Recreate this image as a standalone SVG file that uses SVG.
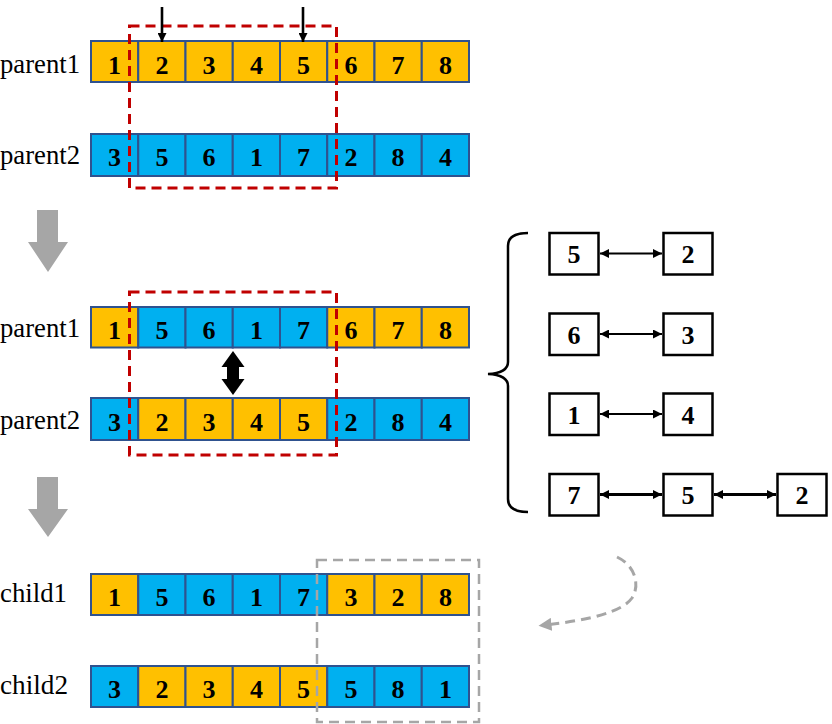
<svg xmlns="http://www.w3.org/2000/svg" width="832" height="724" viewBox="0 0 832 724">
<style>
.o{fill:#FFC000;stroke:#2F528F;stroke-width:2}
.b{fill:#00B0F0;stroke:#2F528F;stroke-width:2}
.d{font-family:"Liberation Serif","Times New Roman",serif;font-weight:bold;font-size:26px;fill:#000;text-anchor:middle}
.lb{font-family:"Liberation Serif","Times New Roman",serif;font-size:27px;fill:#000}
.red{fill:none;stroke:#C00000;stroke-width:3;stroke-dasharray:10 6}
.gd{fill:none;stroke:#A6A6A6;stroke-width:2.5;stroke-dasharray:10 6}
.bx{fill:#fff;stroke:#000;stroke-width:2.5}
.ln{stroke:#000;stroke-width:2.2;fill:none}
</style>
<defs>
<marker id="ah" viewBox="0 0 10 10" refX="10" refY="5" markerUnits="userSpaceOnUse" markerWidth="10" markerHeight="9" orient="auto-start-reverse">
<path d="M0,0 L10,5 L0,10 z" fill="#000"/>
</marker>
<marker id="gh" viewBox="0 0 10 10" refX="5" refY="5" markerUnits="userSpaceOnUse" markerWidth="13" markerHeight="13" orient="auto">
<path d="M0,0 L10,5 L0,10 z" fill="#A6A6A6"/>
</marker>
</defs>
<rect width="832" height="724" fill="#fff"/>

<!-- labels -->
<g id="labels">
<text class="lb" x="0" y="73" textLength="80" lengthAdjust="spacingAndGlyphs">parent1</text>
<text class="lb" x="0" y="164" textLength="80" lengthAdjust="spacingAndGlyphs">parent2</text>
<text class="lb" x="0" y="337" textLength="80" lengthAdjust="spacingAndGlyphs">parent1</text>
<text class="lb" x="0" y="429" textLength="80" lengthAdjust="spacingAndGlyphs">parent2</text>
<text class="lb" x="0" y="602" textLength="67" lengthAdjust="spacingAndGlyphs">child1</text>
<text class="lb" x="0" y="694" textLength="68" lengthAdjust="spacingAndGlyphs">child2</text>
</g>

<!-- row A: parent1 -->
<g id="rowA">
<rect class="o" x="91" y="41" width="47.25" height="41"/>
<rect class="o" x="138.25" y="41" width="47.25" height="41"/>
<rect class="o" x="185.5" y="41" width="47.25" height="41"/>
<rect class="o" x="232.75" y="41" width="47.25" height="41"/>
<rect class="o" x="280" y="41" width="47.25" height="41"/>
<rect class="o" x="327.25" y="41" width="47.25" height="41"/>
<rect class="o" x="374.5" y="41" width="47.25" height="41"/>
<rect class="o" x="421.75" y="41" width="47.25" height="41"/>
<text class="d" x="114.6" y="74">1</text><text class="d" x="161.9" y="74">2</text><text class="d" x="209.1" y="74">3</text><text class="d" x="256.4" y="74">4</text><text class="d" x="303.6" y="74">5</text><text class="d" x="350.9" y="74">6</text><text class="d" x="398.1" y="74">7</text><text class="d" x="445.4" y="74">8</text>
</g>

<!-- row B: parent2 -->
<g id="rowB">
<rect class="b" x="91" y="134" width="47.25" height="42"/>
<rect class="b" x="138.25" y="134" width="47.25" height="42"/>
<rect class="b" x="185.5" y="134" width="47.25" height="42"/>
<rect class="b" x="232.75" y="134" width="47.25" height="42"/>
<rect class="b" x="280" y="134" width="47.25" height="42"/>
<rect class="b" x="327.25" y="134" width="47.25" height="42"/>
<rect class="b" x="374.5" y="134" width="47.25" height="42"/>
<rect class="b" x="421.75" y="134" width="47.25" height="42"/>
<text class="d" x="114.6" y="166">3</text><text class="d" x="161.9" y="166">5</text><text class="d" x="209.1" y="166">6</text><text class="d" x="256.4" y="166">1</text><text class="d" x="303.6" y="166">7</text><text class="d" x="350.9" y="166">2</text><text class="d" x="398.1" y="166">8</text><text class="d" x="445.4" y="166">4</text>
</g>

<!-- row C: parent1 after swap -->
<g id="rowC">
<rect class="o" x="91" y="307" width="47.25" height="40.5"/>
<rect class="b" x="138.25" y="307" width="47.25" height="40.5"/>
<rect class="b" x="185.5" y="307" width="47.25" height="40.5"/>
<rect class="b" x="232.75" y="307" width="47.25" height="40.5"/>
<rect class="b" x="280" y="307" width="47.25" height="40.5"/>
<rect class="o" x="327.25" y="307" width="47.25" height="40.5"/>
<rect class="o" x="374.5" y="307" width="47.25" height="40.5"/>
<rect class="o" x="421.75" y="307" width="47.25" height="40.5"/>
<text class="d" x="114.6" y="339">1</text><text class="d" x="161.9" y="339">5</text><text class="d" x="209.1" y="339">6</text><text class="d" x="256.4" y="339">1</text><text class="d" x="303.6" y="339">7</text><text class="d" x="350.9" y="339">6</text><text class="d" x="398.1" y="339">7</text><text class="d" x="445.4" y="339">8</text>
</g>

<!-- row D: parent2 after swap -->
<g id="rowD">
<rect class="b" x="91" y="398" width="47.25" height="42"/>
<rect class="o" x="138.25" y="398" width="47.25" height="42"/>
<rect class="o" x="185.5" y="398" width="47.25" height="42"/>
<rect class="o" x="232.75" y="398" width="47.25" height="42"/>
<rect class="o" x="280" y="398" width="47.25" height="42"/>
<rect class="b" x="327.25" y="398" width="47.25" height="42"/>
<rect class="b" x="374.5" y="398" width="47.25" height="42"/>
<rect class="b" x="421.75" y="398" width="47.25" height="42"/>
<text class="d" x="114.6" y="431">3</text><text class="d" x="161.9" y="431">2</text><text class="d" x="209.1" y="431">3</text><text class="d" x="256.4" y="431">4</text><text class="d" x="303.6" y="431">5</text><text class="d" x="350.9" y="431">2</text><text class="d" x="398.1" y="431">8</text><text class="d" x="445.4" y="431">4</text>
</g>

<!-- row E: child1 -->
<g id="rowE">
<rect class="o" x="91" y="574" width="47.25" height="41"/>
<rect class="b" x="138.25" y="574" width="47.25" height="41"/>
<rect class="b" x="185.5" y="574" width="47.25" height="41"/>
<rect class="b" x="232.75" y="574" width="47.25" height="41"/>
<rect class="b" x="280" y="574" width="47.25" height="41"/>
<rect class="o" x="327.25" y="574" width="47.25" height="41"/>
<rect class="o" x="374.5" y="574" width="47.25" height="41"/>
<rect class="o" x="421.75" y="574" width="47.25" height="41"/>
<text class="d" x="114.6" y="606">1</text><text class="d" x="161.9" y="606">5</text><text class="d" x="209.1" y="606">6</text><text class="d" x="256.4" y="606">1</text><text class="d" x="303.6" y="606">7</text><text class="d" x="350.9" y="606">3</text><text class="d" x="398.1" y="606">2</text><text class="d" x="445.4" y="606">8</text>
</g>

<!-- row F: child2 -->
<g id="rowF">
<rect class="b" x="91" y="666" width="47.25" height="41"/>
<rect class="o" x="138.25" y="666" width="47.25" height="41"/>
<rect class="o" x="185.5" y="666" width="47.25" height="41"/>
<rect class="o" x="232.75" y="666" width="47.25" height="41"/>
<rect class="o" x="280" y="666" width="47.25" height="41"/>
<rect class="b" x="327.25" y="666" width="47.25" height="41"/>
<rect class="b" x="374.5" y="666" width="47.25" height="41"/>
<rect class="b" x="421.75" y="666" width="47.25" height="41"/>
<text class="d" x="114.6" y="698">3</text><text class="d" x="161.9" y="698">2</text><text class="d" x="209.1" y="698">3</text><text class="d" x="256.4" y="698">4</text><text class="d" x="303.6" y="698">5</text><text class="d" x="350.9" y="698">5</text><text class="d" x="398.1" y="698">8</text><text class="d" x="445.4" y="698">1</text>
</g>

<!-- dashed selection boxes -->
<g id="selections">
<rect class="red" x="129.5" y="26" width="207" height="162"/>
<rect class="red" x="129.5" y="292" width="207" height="163"/>
<rect class="gd" x="317" y="560" width="162" height="162"/>
</g>

<!-- mapping boxes -->
<g id="map1">
<rect class="bx" x="549.5" y="233" width="49" height="41.5"/><text class="d" x="574" y="263">5</text>
<rect class="bx" x="663.5" y="233" width="49" height="41.5"/><text class="d" x="688" y="263">2</text>
</g>
<g id="map2">
<rect class="bx" x="549.5" y="313.5" width="49" height="41.5"/><text class="d" x="574" y="344">6</text>
<rect class="bx" x="663.5" y="313.5" width="49" height="41.5"/><text class="d" x="688" y="344">3</text>
</g>
<g id="map3">
<rect class="bx" x="549.5" y="393.5" width="49" height="41.5"/><text class="d" x="574" y="424">1</text>
<rect class="bx" x="663.5" y="393.5" width="49" height="41.5"/><text class="d" x="688" y="424">4</text>
</g>
<g id="map4">
<rect class="bx" x="549.5" y="474" width="49" height="41.5"/><text class="d" x="574" y="504">7</text>
<rect class="bx" x="663.5" y="474" width="49" height="41.5"/><text class="d" x="688" y="504">5</text>
<rect class="bx" x="777.5" y="474" width="49" height="41.5"/><text class="d" x="802" y="504">2</text>
</g>

<!-- connectors -->
<g id="connectors">
<line class="ln" style="stroke-width:2.6" x1="162" y1="7" x2="162" y2="42" marker-end="url(#ah)"/>
<line class="ln" style="stroke-width:2.6" x1="303" y1="7" x2="303" y2="42" marker-end="url(#ah)"/>
<line class="ln" x1="600" y1="253.5" x2="662" y2="253.5" marker-start="url(#ah)" marker-end="url(#ah)"/>
<line class="ln" x1="600" y1="334" x2="662" y2="334" marker-start="url(#ah)" marker-end="url(#ah)"/>
<line class="ln" x1="600" y1="414" x2="662" y2="414" marker-start="url(#ah)" marker-end="url(#ah)"/>
<line class="ln" style="stroke-width:3" x1="600" y1="494.5" x2="662" y2="494.5" marker-start="url(#ah)" marker-end="url(#ah)"/>
<line class="ln" style="stroke-width:3" x1="714" y1="494.5" x2="776" y2="494.5" marker-start="url(#ah)" marker-end="url(#ah)"/>
<path class="ln" style="stroke-width:2.5" d="M528,233 Q508,233 508,246 L508,362 Q508,373 488,374 Q508,375 508,386 L508,499 Q508,512 528,512"/>
<polygon points="233,351 244.5,367 239,367 239,379 244.5,379 233,395 221.5,379 227,379 227,367 221.5,367" fill="#000"/>
<polygon points="37,210 58,210 58,242 68,242 48,272 28,242 37,242" fill="#A6A6A6"/>
<polygon points="37,477 58,477 58,509 68,509 48,537 28,509 37,509" fill="#A6A6A6"/>
<path class="gd" style="stroke-width:3" d="M617,557 C636,566 640,586 632,598 C622,612 590,620 545,625" marker-end="url(#gh)"/>
</g>
</svg>
